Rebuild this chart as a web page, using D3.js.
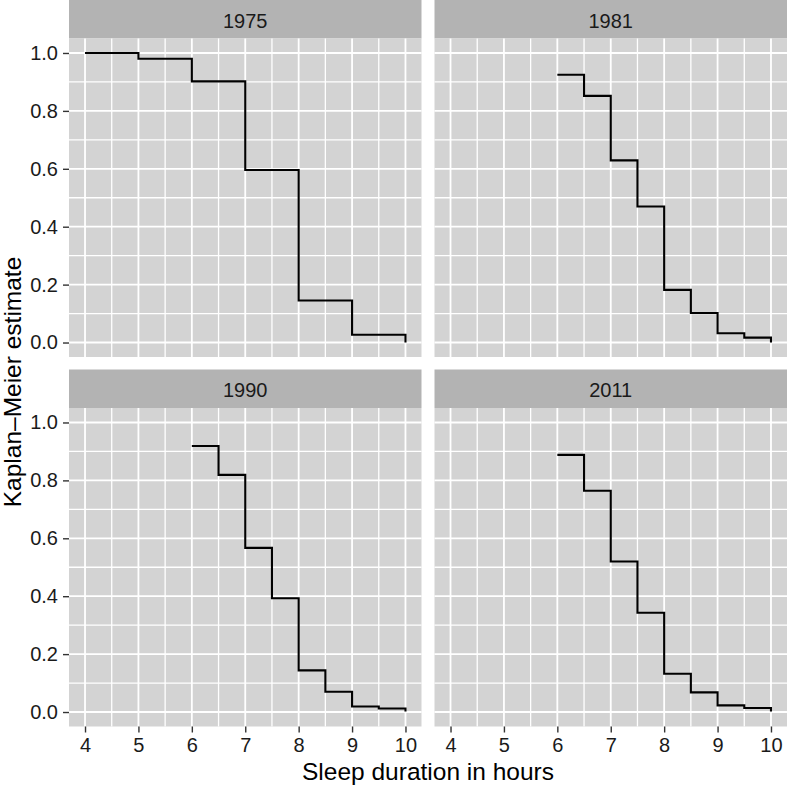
<!DOCTYPE html>
<html>
<head>
<meta charset="utf-8">
<script src="https://cdn.jsdelivr.net/npm/d3@7"></script>
<style>
html,body{margin:0;padding:0;background:#fff;}
svg{display:block;}
text{font-family:"Liberation Sans", Arial, Helvetica, sans-serif;}
</style>
</head>
<body>
<svg id="chart" width="787" height="787"></svg>
<script>
// ---- data ----
const years = ["1975", "1981", "1990", "2011"];
const hours1975 = [4, 5, 6, 7, 8, 9, 10];
const km1975 = [1.0, 0.98, 0.902, 0.596, 0.145, 0.027, 0.0];
const hours1981 = [6, 6.5, 7, 7.5, 8, 8.5, 9, 9.5, 10];
const km1981 = [0.925, 0.852, 0.629, 0.470, 0.182, 0.102, 0.032, 0.017, 0.0];
const hours1990 = [6, 6.5, 7, 7.5, 8, 8.5, 9, 9.5, 10];
const km1990 = [0.919, 0.819, 0.567, 0.393, 0.144, 0.070, 0.019, 0.012, 0.002];
const hours2011 = [6, 6.5, 7, 7.5, 8, 8.5, 9, 9.5, 10];
const km2011 = [0.888, 0.764, 0.520, 0.343, 0.132, 0.068, 0.023, 0.014, 0.002];
const xTicks = [4, 5, 6, 7, 8, 9, 10];
const yTicks = [0.0, 0.2, 0.4, 0.6, 0.8, 1.0];
const xTitle = "Sleep duration in hours";
const yTitle = "Kaplan\u2013Meier estimate";

const series = [
  {year: years[0], x: hours1975, y: km1975},
  {year: years[1], x: hours1981, y: km1981},
  {year: years[2], x: hours1990, y: km1990},
  {year: years[3], x: hours2011, y: km2011}
];

// ---- layout ----
const svg = d3.select("#chart");
const panelW = 352.5;
const colX = [69, 434.5];
const stripTop = [0, 369.5];
const stripH = 38.5;
const plotH = 318.5;
const panelBg = "#d3d3d3";
const stripBg = "#b3b3b3";
const tickFont = 20;

const xDomain = [3.7, 10.3];
const yDomain = [-0.05, 1.05];

series.forEach((s, i) => {
  const col = i % 2, row = Math.floor(i / 2);
  const x0 = colX[col];
  const sTop = stripTop[row];
  const pTop = sTop + stripH;
  const x = d3.scaleLinear().domain(xDomain).range([x0, x0 + panelW]);
  const y = d3.scaleLinear().domain(yDomain).range([pTop + plotH, pTop]);

  const g = svg.append("g");
  // strip
  g.append("rect").attr("x", x0).attr("y", sTop).attr("width", panelW).attr("height", stripH).attr("fill", stripBg);
  g.append("text").attr("x", x0 + panelW / 2).attr("y", sTop + stripH / 2 + 1.5)
    .attr("text-anchor", "middle").attr("dominant-baseline", "central")
    .attr("font-size", tickFont).attr("fill", "#1a1a1a").text(s.year);
  // panel
  g.append("rect").attr("x", x0).attr("y", pTop).attr("width", panelW).attr("height", plotH).attr("fill", panelBg);

  // minor grid
  const xMinor = d3.range(4.5, 10, 1);
  const yMinor = d3.range(0.1, 1.0, 0.2);
  g.selectAll(null).data(xMinor).enter().append("line")
    .attr("x1", d => x(d)).attr("x2", d => x(d)).attr("y1", pTop).attr("y2", pTop + plotH)
    .attr("stroke", "#fff").attr("stroke-width", 1.3);
  g.selectAll(null).data(yMinor).enter().append("line")
    .attr("y1", d => y(d)).attr("y2", d => y(d)).attr("x1", x0).attr("x2", x0 + panelW)
    .attr("stroke", "#fff").attr("stroke-width", 1.3);
  // major grid
  g.selectAll(null).data(xTicks).enter().append("line")
    .attr("x1", d => x(d)).attr("x2", d => x(d)).attr("y1", pTop).attr("y2", pTop + plotH)
    .attr("stroke", "#fff").attr("stroke-width", 1.8);
  g.selectAll(null).data(yTicks).enter().append("line")
    .attr("y1", d => y(d)).attr("y2", d => y(d)).attr("x1", x0).attr("x2", x0 + panelW)
    .attr("stroke", "#fff").attr("stroke-width", 1.8);

  // step line (KM estimate, step after each time point)
  const pts = s.x.map((v, k) => [v, s.y[k]]);
  const line = d3.line().x(d => x(d[0])).y(d => y(d[1])).curve(d3.curveStepAfter);
  g.append("path").datum(pts).attr("d", line)
    .attr("fill", "none").attr("stroke", "#000").attr("stroke-width", 2.1);

  // y axis on left column
  if (col === 0) {
    const ax = d3.axisLeft(y).tickValues(yTicks).tickFormat(d3.format(".1f")).tickSize(6).tickPadding(5);
    const a = svg.append("g").attr("transform", `translate(${x0},0)`).call(ax);
    a.select(".domain").remove();
    a.selectAll(".tick line").attr("stroke", "#333").attr("stroke-width", 1.4);
    a.selectAll(".tick text").attr("font-size", tickFont).attr("fill", "#1a1a1a");
  }
  // x axis on bottom row
  if (row === 1) {
    const ax = d3.axisBottom(x).tickValues(xTicks).tickFormat(d3.format("d")).tickSize(6).tickPadding(5);
    const a = svg.append("g").attr("transform", `translate(0,${pTop + plotH})`).call(ax);
    a.select(".domain").remove();
    a.selectAll(".tick line").attr("stroke", "#333").attr("stroke-width", 1.4);
    a.selectAll(".tick text").attr("font-size", tickFont).attr("fill", "#1a1a1a");
  }
});

// axis titles
svg.append("text").attr("x", (69 + 787) / 2).attr("y", 780)
  .attr("text-anchor", "middle").attr("font-size", 24.5).attr("fill", "#000").text(xTitle);
svg.append("text").attr("transform", "translate(21,382) rotate(-90)")
  .attr("text-anchor", "middle").attr("font-size", 24.5).attr("fill", "#000").text(yTitle);
</script>
</body>
</html>
